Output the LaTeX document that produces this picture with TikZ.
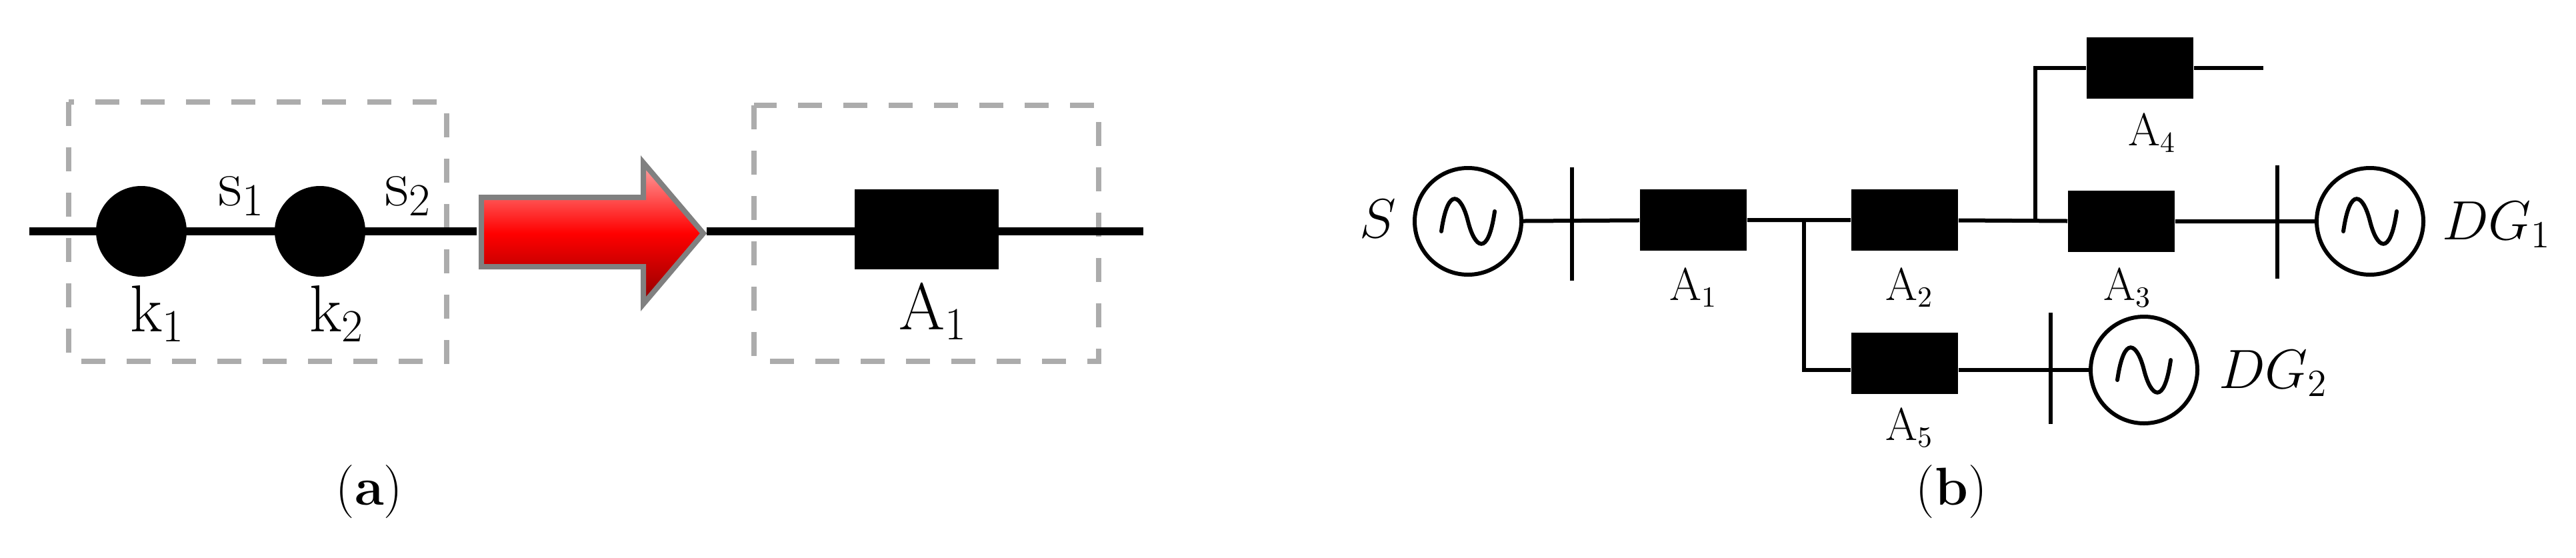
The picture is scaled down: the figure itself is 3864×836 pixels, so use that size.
\documentclass[tikz,border=0pt]{standalone}
\begin{document}
\begin{tikzpicture}[x=0.25pt,y=-0.25pt,
  wire/.style={line width=2.8pt},
  thin/.style={line width=1.5pt},
  brk/.style={fill=black,draw=none},
  dbox/.style={draw=gray!65,line width=2.2pt,dash pattern=on 9pt off 8pt},
  gen/.style={circle,draw,line width=1.5pt,minimum size=40pt,inner sep=0pt},
  lab/.style={font=\fontsize{16}{18}\selectfont,inner sep=0pt},
  biglab/.style={font=\fontsize{26}{28}\selectfont,inner sep=0pt},
  sine/.pic={\draw[line width=1.5pt,line cap=round] (-40,15) .. controls (-30,-55) and (-10,-40) .. (0,0) .. controls (10,40) and (30,55) .. (40,-15);}]
\useasboundingbox (0,0) rectangle (3864,836);
% ---- (a)
\draw[dbox] (103,153) rectangle (670,542);
\draw[dbox] (1131,158) rectangle (1648,542);
\coordinate (la) at (44,347); \coordinate (lb) at (715,347);
\draw[wire] (la) -- (lb);
\node[circle,fill=black,minimum size=34pt,inner sep=0pt] (k1) at (212,347) {};
\node[circle,fill=black,minimum size=34pt,inner sep=0pt] (k2) at (480,347) {};
\node[biglab] at (362,295) {$\mathrm{s}_1$};
\node[biglab] at (612,295) {$\mathrm{s}_2$};
\node[biglab] at (236,470) {$\mathrm{k}_1$};
\node[biglab] at (505,470) {$\mathrm{k}_2$};
\shade[top color=red!35!white,bottom color=red!55!black,middle color=red,draw=gray,line width=2pt]
  (722,296) -- (965,296) -- (965,244) -- (1055,350) -- (965,456) -- (965,400) -- (722,400) -- cycle;
\coordinate (ra) at (1060,347); \coordinate (rb) at (1715,347);
\draw[wire] (ra) -- (rb);
\node[brk,minimum width=54pt,minimum height=30pt] (a1) at (1390,344) {};
\node[biglab] at (1400,468) {$\mathrm{A}_1$};
\node[font=\fontsize{20}{22}\selectfont] at (554,738) {(\textbf{a})};
% ---- (b)
\begin{scope}[yshift=2pt]
\node[lab,font=\fontsize{22}{24}\selectfont] at (2067,336) {$S$};
\node[gen] (S) at (2202,340) {};
\pic at (S) {sine};
\node[brk,minimum width=40pt,minimum height=23pt] (A1) at (2540,338) {};
\node[brk,minimum width=40pt,minimum height=23pt] (A2) at (2857,338) {};
\node[brk,minimum width=40pt,minimum height=23pt] (A3) at (3182,340) {};
\node[brk,minimum width=40pt,minimum height=23pt] (A4) at (3210,110) {};
\node[brk,minimum width=40pt,minimum height=23pt] (A5) at (2857,553) {};
\node[gen] (G1) at (3555,340) {};
\pic at (G1) {sine};
\node[gen] (G2) at (3216,563) {};
\pic at (G2) {sine};
\coordinate (j1) at (2706,338);
\coordinate (j2) at (3053,338);
\coordinate (j5) at (2706,563);
\coordinate (j4) at (3053,110);
\coordinate (e4) at (3395,110);
\draw[thin] (S) -- (A1) -- (A2) -- (A3) -- (G1);
\draw[thin] (j1) -- (j5) -- (A5.west |- j5) (A5.east |- j5) -- (G2);
\draw[thin] (j2) -- (j4) -- (A4) -- (e4);
\draw[thin] (2358,259) -- (2358,429);
\draw[thin] (3416,256) -- (3416,426);
\draw[thin] (3076,477) -- (3076,644);
\node[lab] at (2540,440) {$\mathrm{A}_1$};
\node[lab] at (2864,440) {$\mathrm{A}_2$};
\node[lab] at (3191,440) {$\mathrm{A}_3$};
\node[lab] at (3228,208) {$\mathrm{A}_4$};
\node[lab] at (2864,650) {$\mathrm{A}_5$};
\node[lab,font=\fontsize{22}{24}\selectfont] at (3745,345) {$DG_1$};
\node[lab,font=\fontsize{22}{24}\selectfont] at (3410,568) {$DG_2$};
\end{scope}
\node[font=\fontsize{20}{22}\selectfont] at (2927,738) {(\textbf{b})};
\end{tikzpicture}
\end{document}
